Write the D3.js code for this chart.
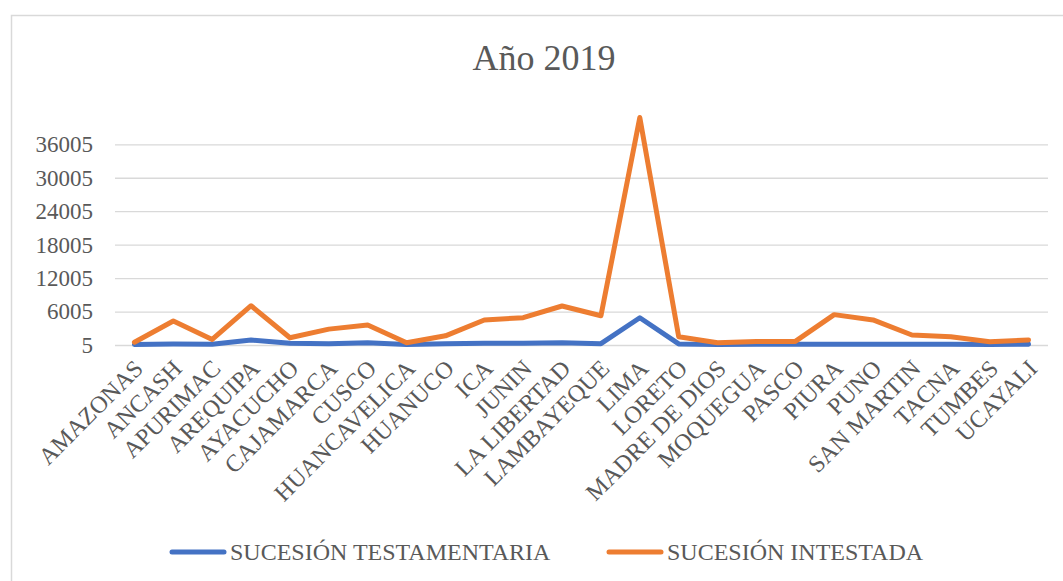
<!DOCTYPE html>
<html>
<head>
<meta charset="utf-8">
<script src="https://cdn.jsdelivr.net/npm/d3@7"></script>
<style>
  body { margin: 0; background: #fff; }
  svg { display: block; font-family: "Liberation Serif", "Times New Roman", serif; }
</style>
</head>
<body>
<div id="chart"></div>
<script>
// Datos
const categories = ['AMAZONAS', 'ANCASH', 'APURIMAC', 'AREQUIPA', 'AYACUCHO', 'CAJAMARCA', 'CUSCO',
  'HUANCAVELICA', 'HUANUCO', 'ICA', 'JUNIN', 'LA LIBERTAD', 'LAMBAYEQUE', 'LIMA', 'LORETO',
  'MADRE DE DIOS', 'MOQUEGUA', 'PASCO', 'PIURA', 'PUNO', 'SAN MARTIN', 'TACNA', 'TUMBES', 'UCAYALI'];
const testamentaria = [100, 200, 150, 900, 300, 250, 400, 100, 250, 300, 300, 400, 250, 4900, 200,
  100, 150, 150, 150, 150, 150, 150, 100, 150];
const intestada = [500, 4300, 1000, 7050, 1300, 2850, 3600, 400, 1650, 4500, 4900, 7000, 5250, 40800, 1500,
  400, 650, 650, 5450, 4500, 1800, 1500, 600, 900];
const yTicks = [5, 6005, 12005, 18005, 24005, 30005, 36005];
const seriesNames = ['SUCESIÓN TESTAMENTARIA', 'SUCESIÓN INTESTADA'];
const title = 'Año 2019';

const W = 1063, H = 581;
const colors = ['#4472C4', '#ED7D31'];
const textColor = '#595959';
const gridColor = '#d9d9d9';
const serif = '"Liberation Serif", "Times New Roman", serif';

const svg = d3.select('#chart').append('svg')
  .attr('width', W)
  .attr('height', H);

svg.append('rect').attr('width', W).attr('height', H).attr('fill', '#fff');

// marco del gráfico
svg.append('rect')
  .attr('x', 11.5).attr('y', 15.5)
  .attr('width', W + 20).attr('height', H + 20)
  .attr('fill', 'none')
  .attr('stroke', gridColor)
  .attr('stroke-width', 1.5);

// titulo
svg.append('text')
  .attr('x', 544).attr('y', 70)
  .attr('text-anchor', 'middle')
  .attr('font-family', serif)
  .attr('font-size', 36)
  .attr('fill', textColor)
  .text(title);

const x = d3.scaleBand()
  .domain(categories)
  .range([115, 1048]);

const y = d3.scaleLinear()
  .domain([5, 42005])
  .range([345, 345 - 7 * 33.45]);

const cx = d => x(d) + x.bandwidth() / 2;

// lineas de cuadricula
const grid = svg.append('g')
  .attr('transform', 'translate(115,0)')
  .call(d3.axisLeft(y).tickValues(yTicks).tickSize(-(1048 - 115)).tickFormat(''));
grid.select('.domain').remove();
grid.selectAll('line').attr('stroke', gridColor).attr('stroke-width', 1.3);

// eje y
const yAxis = svg.append('g')
  .attr('transform', 'translate(115,0)')
  .style('color', textColor)
  .call(d3.axisLeft(y).tickValues(yTicks).tickSize(0).tickPadding(22).tickFormat(d3.format('d')));
yAxis.select('.domain').remove();
yAxis.selectAll('text')
  .attr('font-family', serif)
  .attr('font-size', 23)
  .attr('fill', textColor);

// eje x
const xAxis = svg.append('g')
  .attr('transform', 'translate(0,345)')
  .style('color', textColor)
  .call(d3.axisBottom(x).tickSize(0).tickPadding(0));
xAxis.select('.domain').remove();
xAxis.selectAll('text')
  .attr('font-family', serif)
  .attr('font-size', 24)
  .attr('fill', textColor)
  .attr('text-anchor', 'end')
  .attr('dy', null)
  .attr('transform', 'translate(10,25) rotate(-45)');

// lineas
const line = d3.line()
  .x((d, i) => cx(categories[i]))
  .y(d => y(d));

[testamentaria, intestada].forEach((vals, k) => {
  svg.append('path')
    .datum(vals)
    .attr('fill', 'none')
    .attr('stroke', colors[k])
    .attr('stroke-width', 5)
    .attr('stroke-linejoin', 'round')
    .attr('stroke-linecap', 'round')
    .attr('d', line);
});

// leyenda
const legendX = [170, 607];
const legend = svg.append('g');
seriesNames.forEach((name, k) => {
  legend.append('line')
    .attr('x1', legendX[k] + 2).attr('x2', legendX[k] + 54)
    .attr('y1', 552).attr('y2', 552)
    .attr('stroke', colors[k])
    .attr('stroke-width', 5)
    .attr('stroke-linecap', 'round');
  legend.append('text')
    .attr('x', legendX[k] + 60).attr('y', 560)
    .attr('font-family', serif)
    .attr('font-size', 24)
    .attr('fill', textColor)
    .text(name);
});
</script>
</body>
</html>
